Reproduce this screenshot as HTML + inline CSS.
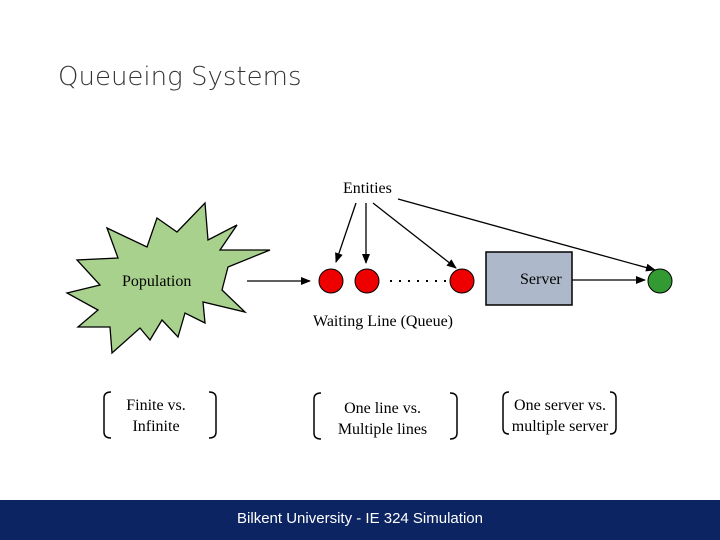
<!DOCTYPE html>
<html><head><style>
body{margin:0;width:720px;height:540px;background:#fff;position:relative;overflow:hidden;font-family:"Liberation Serif",serif;}
.t{position:absolute;white-space:nowrap;}
</style></head><body>
<div class="t" style="left:58px;top:62px;font-family:'DejaVu Sans','Liberation Sans',sans-serif;font-weight:300;font-size:26px;color:#333;">Queueing Systems</div>
<svg width="720" height="540" style="position:absolute;left:0;top:0">
<defs><marker id="a" markerWidth="10" markerHeight="8" refX="9" refY="4" orient="auto" markerUnits="userSpaceOnUse"><path d="M0,0 L10,4 L0,8 z" fill="#000"/></marker></defs>
<polygon points="107,228 147,247 157,218 177,232 205,203 208,240 237,225 220,250 270,250 228,267 222,290 245,312 203,302 205,323 185,313 178,337 162,320 150,340 140,328 112,353 110,327 78,327 98,310 67,293 100,285 77,260 118,258" fill="#a9d18e" stroke="#000" stroke-width="1.3"/>
<rect x="486" y="252" width="86" height="53" fill="#adb9ca" stroke="#000" stroke-width="1.5"/>
<circle cx="331" cy="281" r="12" fill="#e00" stroke="#000"/>
<circle cx="367" cy="281" r="12" fill="#e00" stroke="#000"/>
<circle cx="462" cy="281" r="12" fill="#e00" stroke="#000"/>
<circle cx="660" cy="281" r="12" fill="#339933" stroke="#000"/>
<line x1="390" y1="281" x2="446" y2="281" stroke="#000" stroke-width="2" stroke-dasharray="2,7"/>
<g stroke="#000" stroke-width="1.3" marker-end="url(#a)">
<line x1="247" y1="281" x2="310" y2="281"/>
<line x1="572" y1="280" x2="645" y2="280"/>
<line x1="356" y1="203" x2="336" y2="262"/>
<line x1="366" y1="203" x2="366" y2="263"/>
<line x1="373" y1="203" x2="456" y2="268"/>
<line x1="398" y1="199" x2="655" y2="270"/>
</g>
<g fill="none" stroke="#000" stroke-width="1.5">
<path d="M111,392 Q104,392 104,398 L104,432 Q104,438 111,438"/>
<path d="M209,392 Q216,392 216,398 L216,432 Q216,438 209,438"/>
<path d="M321,393 Q314,393 314,399 L314,433 Q314,439 321,439"/>
<path d="M450,393 Q457,393 457,399 L457,433 Q457,439 450,439"/>
<path d="M509,392 Q503,392 503,398 L503,428 Q503,434 509,434"/>
<path d="M610,392 Q616,392 616,398 L616,428 Q616,434 610,434"/>
</g>
</svg>
<div class="t" style="left:343px;top:180px;font-size:16px;">Entities</div>
<div class="t" style="left:122px;top:273px;font-size:16px;">Population</div>
<div class="t" style="left:520px;top:271px;font-size:16px;">Server</div>
<div class="t" style="left:313px;top:313px;font-size:16px;">Waiting Line (Queue)</div>
<div class="t" style="left:106px;top:395px;width:100px;text-align:center;font-size:16px;line-height:21px;">Finite vs.<br>Infinite</div>
<div class="t" style="left:320px;top:398px;width:125px;text-align:center;font-size:16px;line-height:21px;">One line vs.<br>Multiple lines</div>
<div class="t" style="left:504px;top:395px;width:112px;text-align:center;font-size:16px;line-height:21px;">One server vs.<br>multiple server</div>
<div style="position:absolute;left:0;top:500px;width:720px;height:40px;background:#0c2461;"></div>
<div class="t" style="left:0;top:510px;width:720px;text-align:center;color:#fff;font-family:'Liberation Sans',sans-serif;font-size:15px;">Bilkent University - IE 324 Simulation</div>
</body></html>
